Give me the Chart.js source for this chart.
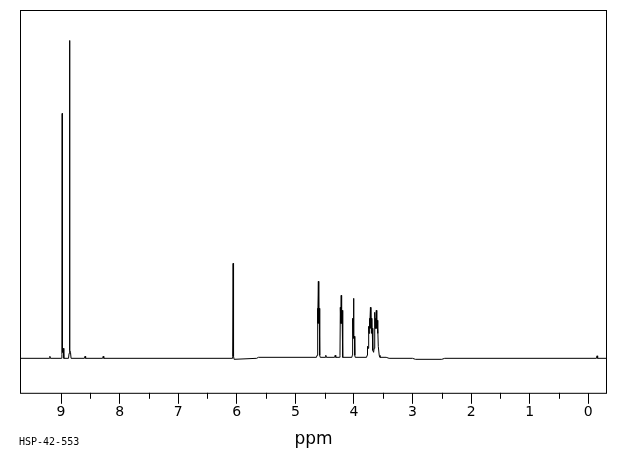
<!DOCTYPE html>
<html lang="en">
<head>
<meta charset="UTF-8">
<title>HSP-42-553</title>
<script src="https://cdn.jsdelivr.net/npm/chart.js@4"></script>
<style>
  body { margin: 0; background: #fff; }
  .wrap { position: relative; width: 620px; height: 455px; }
  .code { position: absolute; left: 19px; top: 436px; font: 10px "DejaVu Sans Mono", monospace; color: #000; }
</style>
</head>
<body>
<div class="wrap">
  <canvas id="nmr" width="620" height="455"></canvas>
  <div class="code">HSP-42-553</div>
</div>
<script>
// spectrum trace (chemical shift in ppm, intensity above baseline)
const shiftPpm = [
  9.70, 9.20, 9.19, 9.18,
  8.995, 8.985, 8.980, 8.975, 8.962, 8.952,
  8.872, 8.862, 8.855, 8.848, 8.838, 8.828,
  8.60, 8.59, 8.58, 8.29, 8.28, 8.27,
  6.08, 6.070, 6.062, 6.055, 6.045, 5.66, 5.63,
  4.64, 4.630, 4.622, 4.615, 4.607, 4.600, 4.592, 4.584, 4.575,
  4.49, 4.48, 4.47, 4.33, 4.32, 4.31,
  4.245, 4.238, 4.232, 4.225, 4.217, 4.210, 4.202, 4.195, 4.188,
  4.035, 4.028, 4.022, 4.015, 4.007, 4.000, 3.992, 3.985, 3.978,
  3.785, 3.775, 3.768, 3.758, 3.748, 3.742, 3.735, 3.727, 3.718, 3.710, 3.700, 3.694, 3.688, 3.678,
  3.664, 3.655, 3.645, 3.638, 3.630, 3.624, 3.618, 3.610, 3.602, 3.596, 3.590, 3.584, 3.578, 3.568, 3.555,
  3.45, 3.40, 3.00, 2.95, 2.50, 2.45,
  -0.14, -0.15, -0.16, -0.32
];
const signal = [
  0, 0, 2, 0,
  0, 4, 245, 6, 10, 0,
  0, 5, 318, 8, 6, 0,
  0, 2, 0, 0, 2, 0,
  0, 2, 95, 2, -1, 0, 1,
  1, 3, 50, 35, 77, 35, 50, 3, 1,
  1, 3, 1, 1, 3, 1,
  1, 3, 51, 35, 63, 35, 48, 3, 1,
  1, 3, 40, 25, 60, 20, 22, 3, 1,
  1, 3, 12, 10, 32, 25, 40, 30, 51, 30, 40, 25, 30, 8,
  6, 10, 46, 30, 40, 30, 48, 30, 38, 25, 30, 12, 12, 3, 1,
  1, 0, 0, -1, -1, 0,
  0, 2.5, 0, 0
];
const majorTicks = [0, 1, 2, 3, 4, 5, 6, 7, 8, 9];
const minorTicks = [0.5, 1.5, 2.5, 3.5, 4.5, 5.5, 6.5, 7.5, 8.5];

const frame = {
  id: 'frame',
  afterDraw(chart) {
    const { ctx, chartArea: a, scales: { x } } = chart;
    ctx.save();
    ctx.strokeStyle = '#000';
    ctx.lineWidth = 1;
    ctx.strokeRect(a.left + 0.5, a.top + 0.5, a.right - a.left - 1, a.bottom - a.top);
    ctx.beginPath();
    minorTicks.forEach(v => {
      const px = Math.round(x.getPixelForValue(v)) + 0.5;
      ctx.moveTo(px, a.bottom);
      ctx.lineTo(px, a.bottom + 6);
    });
    ctx.stroke();
    ctx.restore();
  }
};

new Chart(document.getElementById('nmr'), {
  type: 'line',
  data: {
    datasets: [{
      data: shiftPpm.map((p, i) => ({ x: p, y: signal[i] })),
      borderColor: '#000',
      borderWidth: 1,
      pointRadius: 0,
      tension: 0
    }]
  },
  options: {
    responsive: false,
    animation: false,
    layout: { padding: { left: 20, right: 13, top: 10, bottom: 0 } },
    plugins: { legend: { display: false }, tooltip: { enabled: false } },
    scales: {
      x: {
        type: 'linear',
        reverse: true,
        min: -0.32,
        max: 9.70,
        afterBuildTicks: s => { s.ticks = majorTicks.map(v => ({ value: v })); },
        ticks: { includeBounds: false, padding: 0, color: '#000', maxRotation: 0,
                 font: { family: 'DejaVu Sans', size: 14 } },
        grid: { drawOnChartArea: false, drawTicks: true, tickLength: 11, tickColor: '#000', lineWidth: 1 },
        border: { display: false },
        title: { display: true, text: 'ppm', color: '#000', padding: { top: 9, bottom: 5 },
                 font: { family: 'DejaVu Sans', size: 17 } }
      },
      y: { display: false, min: -34.5, max: 348.5 }
    }
  },
  plugins: [frame]
});
</script>
</body>
</html>
